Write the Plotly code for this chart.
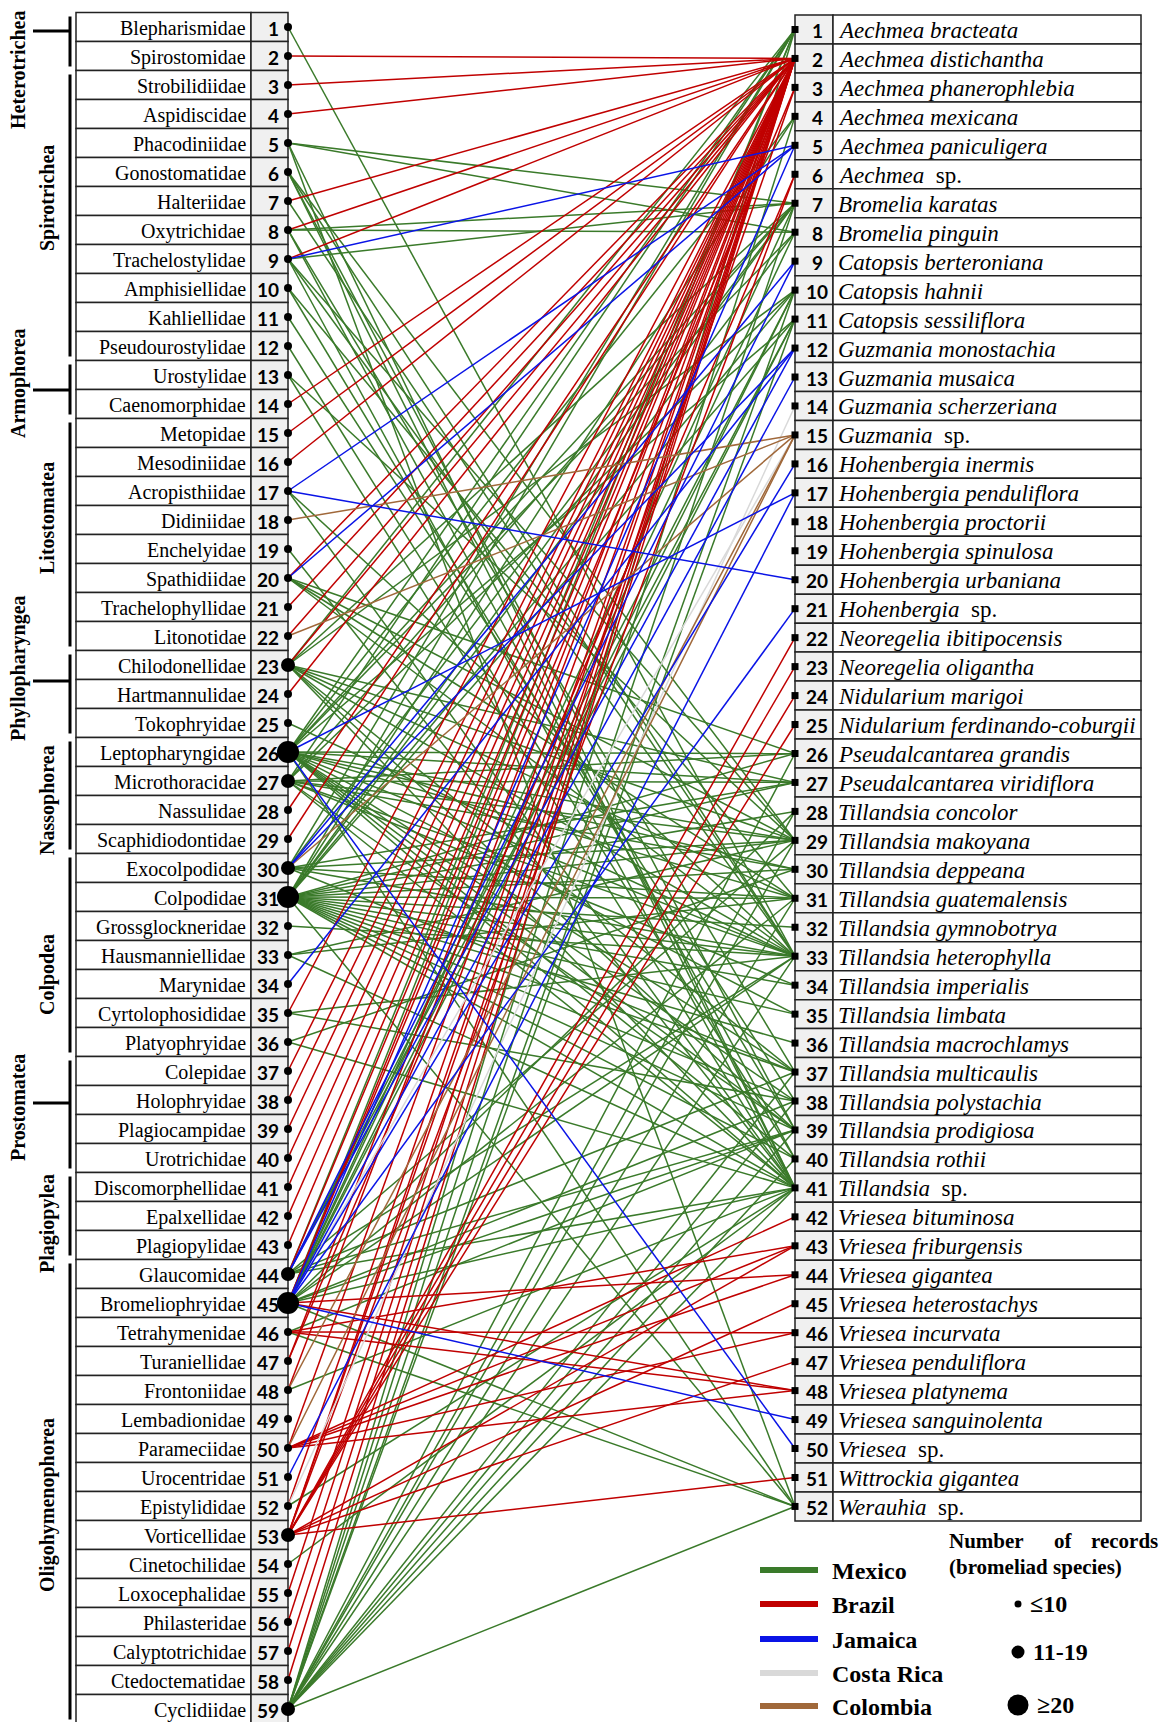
import plotly.graph_objects as go

# ---------------- data ----------------
families = ["Blepharismidae", "Spirostomidae", "Strobilidiidae", "Aspidiscidae", "Phacodiniidae",
            "Gonostomatidae", "Halteriidae", "Oxytrichidae", "Trachelostylidae", "Amphisiellidae",
            "Kahliellidae", "Pseudourostylidae", "Urostylidae", "Caenomorphidae", "Metopidae",
            "Mesodiniidae", "Acropisthiidae", "Didiniidae", "Enchelyidae", "Spathidiidae",
            "Trachelophyllidae", "Litonotidae", "Chilodonellidae", "Hartmannulidae", "Tokophryidae",
            "Leptopharyngidae", "Microthoracidae", "Nassulidae", "Scaphidiodontidae", "Exocolpodidae",
            "Colpodidae", "Grossglockneridae", "Hausmanniellidae", "Marynidae", "Cyrtolophosididae",
            "Platyophryidae", "Colepidae", "Holophryidae", "Plagiocampidae", "Urotrichidae",
            "Discomorphellidae", "Epalxellidae", "Plagiopylidae", "Glaucomidae", "Bromeliophryidae",
            "Tetrahymenidae", "Turaniellidae", "Frontoniidae", "Lembadionidae", "Parameciidae",
            "Urocentridae", "Epistylididae", "Vorticellidae", "Cinetochilidae", "Loxocephalidae",
            "Philasteridae", "Calyptotrichidae", "Ctedoctematidae", "Cyclidiidae"]

bromeliads = ["Aechmea bracteata", "Aechmea distichantha", "Aechmea phanerophlebia", "Aechmea mexicana",
              "Aechmea paniculigera", "Aechmea sp.", "Bromelia karatas", "Bromelia pinguin",
              "Catopsis berteroniana", "Catopsis hahnii", "Catopsis sessiliflora", "Guzmania monostachia",
              "Guzmania musaica", "Guzmania scherzeriana", "Guzmania sp.", "Hohenbergia inermis",
              "Hohenbergia penduliflora", "Hohenbergia proctorii", "Hohenbergia spinulosa",
              "Hohenbergia urbaniana", "Hohenbergia sp.", "Neoregelia ibitipocensis", "Neoregelia oligantha",
              "Nidularium marigoi", "Nidularium ferdinando-coburgii", "Pseudalcantarea grandis",
              "Pseudalcantarea viridiflora", "Tillandsia concolor", "Tillandsia makoyana",
              "Tillandsia deppeana", "Tillandsia guatemalensis", "Tillandsia gymnobotrya",
              "Tillandsia heterophylla", "Tillandsia imperialis", "Tillandsia limbata",
              "Tillandsia macrochlamys", "Tillandsia multicaulis", "Tillandsia polystachia",
              "Tillandsia prodigiosa", "Tillandsia rothii", "Tillandsia sp.", "Vriesea bituminosa",
              "Vriesea friburgensis", "Vriesea gigantea", "Vriesea heterostachys", "Vriesea incurvata",
              "Vriesea penduliflora", "Vriesea platynema", "Vriesea sanguinolenta", "Vriesea sp.",
              "Wittrockia gigantea", "Werauhia sp."]

# class groups: (name, first family row, last family row)
classes = [("Heterotrichea", 1, 2), ("Spirotrichea", 3, 12), ("Armophorea", 13, 14),
           ("Litostomatea", 15, 22), ("Phyllopharyngea", 23, 25), ("Nassophorea", 26, 29),
           ("Colpodea", 30, 36), ("Prostomatea", 37, 40), ("Plagiopylea", 41, 43),
           ("Oligohymenophorea", 44, 59)]

# number of records class per family (1: <=10, 2: 11-19, 3: >=20)
records_medium = [23, 27, 30, 44, 53, 59]
records_large = [26, 31, 45]

# edges (family number, bromeliad number) per country
mexico = [(1, 33),
          (5, 7), (5, 8), (5, 41), (5, 52),
          (6, 29), (6, 33), (6, 39), (6, 41),
          (7, 33),
          (8, 7), (8, 8), (8, 37), (8, 40),
          (9, 7), (9, 29), (9, 33), (9, 41),
          (10, 31), (10, 39), (11, 38), (12, 40), (13, 29), (13, 41),
          (17, 33), (17, 41), (19, 41),
          (20, 26), (20, 29), (20, 31), (20, 33),
          (23, 1), (23, 7), (23, 10), (23, 27), (23, 29), (23, 31), (23, 33), (23, 37), (23, 39), (23, 41),
          (25, 33),
          (26, 1), (26, 4), (26, 7), (26, 8), (26, 11), (26, 26), (26, 27), (26, 29), (26, 30), (26, 31),
          (26, 33), (26, 35), (26, 37), (26, 38), (26, 39), (26, 40), (26, 41), (26, 52),
          (27, 1), (27, 7), (27, 10), (27, 26), (27, 27), (27, 29), (27, 30), (27, 33), (27, 34), (27, 39), (27, 41),
          (30, 1), (30, 7), (30, 27), (30, 29), (30, 31), (30, 33), (30, 37),
          (31, 1), (31, 4), (31, 7), (31, 8), (31, 10), (31, 11), (31, 26), (31, 27), (31, 28), (31, 29),
          (31, 30), (31, 31), (31, 32), (31, 33), (31, 34), (31, 35), (31, 36), (31, 37), (31, 38), (31, 39),
          (31, 40), (31, 41), (31, 52),
          (32, 33), (33, 29), (33, 31), (33, 41), (35, 33), (35, 38), (36, 30), (36, 41),
          (44, 1), (44, 10), (44, 11), (44, 29), (44, 33), (44, 37), (44, 39), (44, 41),
          (45, 1), (45, 7), (45, 8), (45, 10), (45, 11), (45, 28), (45, 31), (45, 33), (45, 38), (45, 39),
          (45, 41), (45, 52),
          (46, 39), (46, 52), (48, 41), (52, 41), (54, 41),
          (59, 1), (59, 4), (59, 7), (59, 10), (59, 11), (59, 26), (59, 28), (59, 29), (59, 31), (59, 33),
          (59, 37), (59, 38), (59, 39), (59, 40), (59, 41), (59, 52)]

brazil = [(2, 2), (3, 2), (4, 2), (7, 2), (8, 2), (9, 2), (14, 2), (15, 2), (16, 2), (20, 2), (21, 2),
          (22, 2), (23, 2), (24, 2), (28, 2), (29, 2), (35, 2), (37, 2), (38, 2), (39, 2), (40, 2),
          (41, 2), (42, 2), (43, 2), (44, 2), (45, 2), (47, 2), (48, 2), (50, 2), (52, 2), (55, 2),
          (56, 2), (57, 2), (58, 2),
          (45, 3), (45, 44), (45, 48),
          (46, 43), (46, 46), (46, 48),
          (47, 6),
          (50, 42), (50, 43), (50, 44), (50, 46), (50, 48),
          (53, 2), (53, 3), (53, 6), (53, 22), (53, 23), (53, 24), (53, 25), (53, 43), (53, 45),
          (53, 47), (53, 51)]

jamaica = [(9, 5), (17, 5), (17, 20), (20, 5), (26, 17), (26, 50), (30, 9), (30, 12), (34, 12),
           (44, 9), (44, 12), (45, 5), (45, 13), (45, 16), (45, 21), (45, 49), (51, 17)]

costa_rica = [(52, 14), (45, 15)]

colombia = [(18, 15), (22, 15), (30, 15), (48, 15), (50, 15)]

countries = ["Mexico", "Brazil", "Jamaica", "Costa Rica", "Colombia"]
country_colors = ["#3A7A2A", "#C00000", "#0A14E6", "#D9D9D9", "#A0683A"]

# ---------------- geometry ----------------
W, H = 1167, 1722
PAGE_MARGIN = 8  # default body margin of the html page
L_X0, L_XDIV, L_X1 = 76, 251, 288
R_X0, R_XDIV, R_X1 = 795, 833, 1141
L_TOP, L_PITCH = 12.5, 29.0
R_TOP, R_PITCH = 15.0, 28.96


def yl(i):
    return L_TOP + L_PITCH * (i - 0.5)


def yr(j):
    return R_TOP + R_PITCH * (j - 0.5)


fig = go.Figure()
shapes = []
ann = []

# ----- tables -----
for i, name in enumerate(families, start=1):
    y0, y1 = L_TOP + L_PITCH * (i - 1), L_TOP + L_PITCH * i
    shapes.append(dict(type="rect", x0=L_X0, x1=L_XDIV, y0=y0, y1=y1, fillcolor="white",
                       line=dict(color="#222", width=1.5), layer="below"))
    shapes.append(dict(type="rect", x0=L_XDIV, x1=L_X1, y0=y0, y1=y1, fillcolor="#F0F0F0",
                       line=dict(color="#222", width=1.5), layer="below"))
    ann.append(dict(x=L_XDIV - 3, y=yl(i) + 1, text=name, xanchor="right", yanchor="middle", showarrow=False,
                    font=dict(family="Liberation Serif", size=20, color="black")))
    ann.append(dict(x=L_X1 - 7, y=yl(i) + 1, text="<b>%d</b>" % i, xanchor="right", yanchor="middle",
                    showarrow=False, font=dict(family="Lato", size=19, color="black")))

for j, name in enumerate(bromeliads, start=1):
    y0, y1 = R_TOP + R_PITCH * (j - 1), R_TOP + R_PITCH * j
    shapes.append(dict(type="rect", x0=R_X0, x1=R_XDIV, y0=y0, y1=y1, fillcolor="#F0F0F0",
                       line=dict(color="#222", width=1.5), layer="below"))
    shapes.append(dict(type="rect", x0=R_XDIV, x1=R_X1, y0=y0, y1=y1, fillcolor="white",
                       line=dict(color="#222", width=1.5), layer="below"))
    if name.endswith(" sp."):
        txt = "<i>%s</i>\u00a0 sp." % name[:-4]
    else:
        txt = "<i>%s</i>" % name
    ann.append(dict(x=R_XDIV + 3, y=yr(j) + 1, text=txt, xanchor="left", yanchor="middle", showarrow=False,
                    font=dict(family="Liberation Serif", size=23, color="black")))
    ann.append(dict(x=(R_X0 + R_XDIV) / 2 + 3, y=yr(j) + 1, text="<b>%d</b>" % j, xanchor="center",
                    yanchor="middle", showarrow=False, font=dict(family="Lato", size=19, color="black")))

# ----- class brackets -----
outer_label = {"Heterotrichea": (70, 31), "Armophorea": (383, 390), "Phyllopharyngea": (668, 681),
               "Prostomatea": (1108, 1103)}
inner_label = {"Spirotrichea": 198, "Litostomatea": 518, "Nassophorea": 800, "Colpodea": 975,
               "Plagiopylea": 1224, "Oligohymenophorea": 1505}
for name, a, b in classes:
    y0 = L_TOP + L_PITCH * (a - 1) + 4
    y1 = L_TOP + L_PITCH * b - 4
    shapes.append(dict(type="line", x0=70, x1=70, y0=y0, y1=min(y1, H), line=dict(color="black", width=3)))
    if name in outer_label:
        yc, yt = outer_label[name]
        shapes.append(dict(type="line", x0=33, x1=70, y0=yt, y1=yt, line=dict(color="black", width=3)))
        ann.append(dict(x=18, y=yc, text="<b>%s</b>" % name, textangle=-90, showarrow=False,
                        xanchor="center", yanchor="middle",
                        font=dict(family="Liberation Serif", size=20, color="black")))
    else:
        ann.append(dict(x=47, y=inner_label[name], text="<b>%s</b>" % name, textangle=-90, showarrow=False,
                        xanchor="center", yanchor="middle",
                        font=dict(family="Liberation Serif", size=20, color="black")))

# ----- edges -----
edge_sets = [mexico, brazil, costa_rica, colombia, jamaica]
edge_colors = [country_colors[0], country_colors[1], country_colors[3], country_colors[4], country_colors[2]]
for edges, col in zip(edge_sets, edge_colors):
    xs, ys = [], []
    for l, r in edges:
        xs += [L_X1, R_X0, None]
        ys += [yl(l), yr(r), None]
    fig.add_trace(go.Scatter(x=xs, y=ys, mode="lines", line=dict(color=col, width=1.5),
                             hoverinfo="skip", showlegend=False))

# ----- nodes -----
sizes = []
for i in range(1, len(families) + 1):
    if i in records_large:
        sizes.append(22)
    elif i in records_medium:
        sizes.append(14)
    else:
        sizes.append(8)
fig.add_trace(go.Scatter(x=[L_X1] * len(families), y=[yl(i) for i in range(1, len(families) + 1)],
                         mode="markers",
                         marker=dict(color="black", size=sizes, opacity=1, line=dict(width=0)),
                         hoverinfo="skip", showlegend=False, cliponaxis=False))
fig.add_trace(go.Scatter(x=[R_X0] * len(bromeliads), y=[yr(j) for j in range(1, len(bromeliads) + 1)],
                         mode="markers",
                         marker=dict(color="black", size=7, symbol="square", opacity=1, line=dict(width=0)),
                         hoverinfo="skip", showlegend=False))

# ----- legend -----
leg_y = [1570, 1604, 1639, 1673, 1706]
for name, col, y in zip(countries, country_colors, leg_y):
    shapes.append(dict(type="line", x0=760, x1=818, y0=y, y1=y, line=dict(color=col, width=6)))
    ann.append(dict(x=830, y=y + 1, text="<b>%s</b>" % name, xanchor="left", yanchor="middle", showarrow=False,
                    font=dict(family="Liberation Serif", size=24, color="black")))

ann.append(dict(x=947, y=1541, text="<b>Number</b>", xanchor="left", yanchor="middle", showarrow=False,
                font=dict(family="Liberation Serif", size=21, color="black")))
ann.append(dict(x=1063, y=1541, text="<b>of</b>", xanchor="center", yanchor="middle", showarrow=False,
                font=dict(family="Liberation Serif", size=21, color="black")))
ann.append(dict(x=1160, y=1541, text="<b>records</b>", xanchor="right", yanchor="middle", showarrow=False,
                font=dict(family="Liberation Serif", size=21, color="black")))
ann.append(dict(x=947, y=1567, text="<b>(bromeliad species)</b>", xanchor="left", yanchor="middle",
                showarrow=False, font=dict(family="Liberation Serif", size=21, color="black")))

size_labels = ["\u226410", "11-19", "\u226520"]
size_y = [1604, 1652, 1705]
size_d = [7, 13, 21]
for lab, y, d in zip(size_labels, size_y, size_d):
    shapes.append(dict(type="circle", x0=1018 - d / 2, x1=1018 + d / 2, y0=y - d / 2, y1=y + d / 2,
                       fillcolor="black", line=dict(width=0)))
    ann.append(dict(x=1018 + d / 2 + 6, y=y, text="<b>%s</b>" % lab, xanchor="left", yanchor="middle",
                    showarrow=False, font=dict(family="Liberation Serif", size=24, color="black")))

# the page has an 8px body margin: shrink the figure and offset the axes so that
# axis units equal page pixels
fig.update_layout(width=W - PAGE_MARGIN, height=H - PAGE_MARGIN, margin=dict(l=0, r=0, t=0, b=0),
                  paper_bgcolor="white", plot_bgcolor="white",
                  xaxis=dict(range=[PAGE_MARGIN, W], visible=False, fixedrange=True),
                  yaxis=dict(range=[H, PAGE_MARGIN], visible=False, fixedrange=True),
                  shapes=shapes, annotations=ann, showlegend=False)

fig.write_html("out.html", config={"displayModeBar": False})
